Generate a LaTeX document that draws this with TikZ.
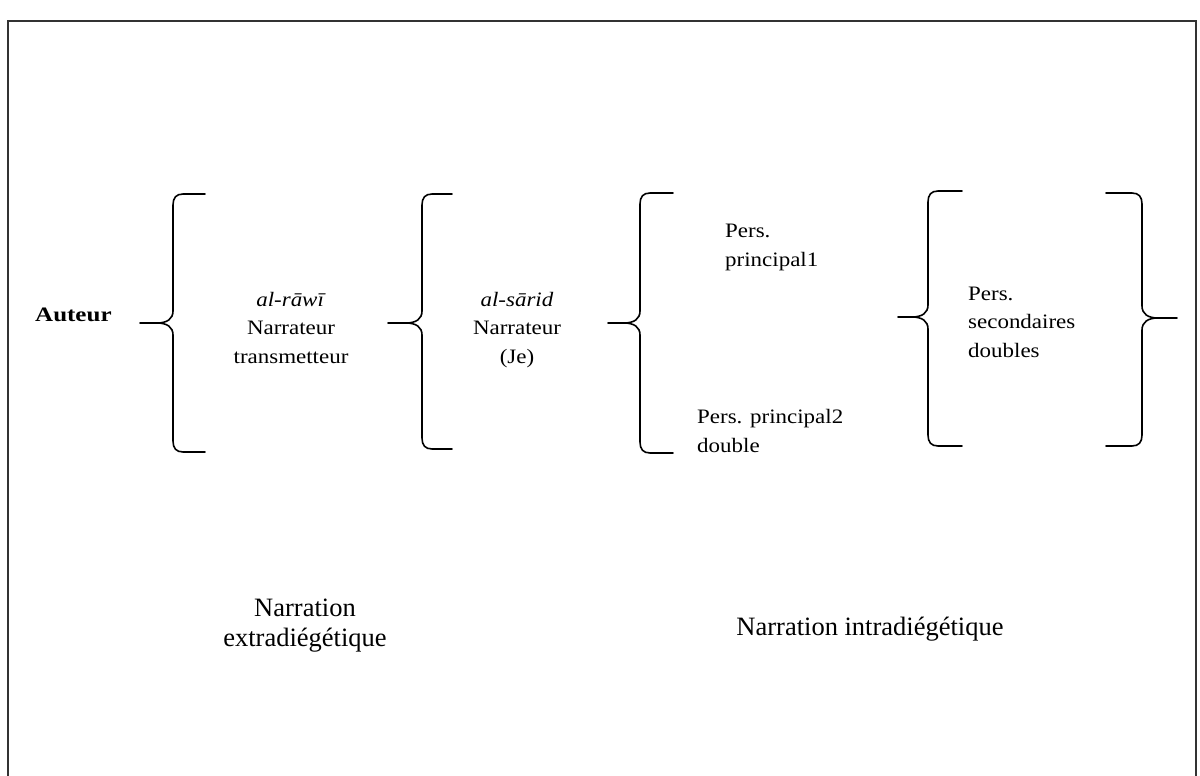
\documentclass[tikz,border=0pt]{standalone}
\usepackage{fontspec}
\setmainfont{Liberation Serif}[FakeStretch=1.12,BoldFeatures={FakeStretch=1.22}]
\newfontfamily\capfont{Liberation Serif}

\tikzset{
  frameline/.style={line width=1.2pt, draw=black!80},
  brk/.style={line width=1.6pt, line cap=round, line join=round},
  txt/.style={inner sep=0pt, font=\fontsize{20.5}{28.5}\selectfont},
  boldtxt/.style={inner sep=0pt, font=\fontsize{20.5}{28.5}\selectfont\bfseries},
  captxt/.style={inner sep=0pt, font=\capfont\fontsize{26.5}{30}\selectfont},
}

% opening brace: spine x, top y, bottom y, tip x, tip y, arm end x
\newcommand\openbrk[6]{%
  \draw[brk] (#6,#2) -- (#1+10,#2) .. controls (#1+3,#2) and (#1,#2+4) .. (#1,#2+11)
    -- (#1,#5-12) .. controls (#1,#5-4) and (#1-6,#5) .. (#1-16,#5) -- (#4,#5);
  \draw[brk] (#1-16,#5) .. controls (#1-6,#5) and (#1,#5+4) .. (#1,#5+12)
    -- (#1,#3-11) .. controls (#1,#3-4) and (#1+3,#3) .. (#1+10,#3) -- (#6,#3);
}
% closing brace: same arguments, mirrored
\newcommand\closebrk[6]{%
  \draw[brk] (#6,#2) -- (#1-10,#2) .. controls (#1-3,#2) and (#1,#2+4) .. (#1,#2+11)
    -- (#1,#5-12) .. controls (#1,#5-4) and (#1+6,#5) .. (#1+16,#5) -- (#4,#5);
  \draw[brk] (#1+16,#5) .. controls (#1+6,#5) and (#1,#5+4) .. (#1,#5+12)
    -- (#1,#3-11) .. controls (#1,#3-4) and (#1-3,#3) .. (#1-10,#3) -- (#6,#3);
}

\begin{document}
\begin{tikzpicture}[x=1pt,y=-1pt]
\useasboundingbox (0,0) rectangle (1200,776);
\fill[white] (0,0) rectangle (1200,776);

% page frame, open at the bottom
\draw[frameline] (8,776) -- (8,21) -- (1196,21) -- (1196,776);

% labels (multi-line nodes sit on the baseline of their last line)
\node[boldtxt, anchor=base west] (auteur) at (35,321) {Auteur};
\node[txt, align=center, anchor=base] (rawi) at (291,363)
  {\textit{al-rāwī}\\Narrateur\\transmetteur};
\node[txt, align=center, anchor=base] (sarid) at (517,363)
  {\textit{al-sārid}\\Narrateur\\(Je)};
\node[txt, align=left, anchor=base west] (pp1) at (725,266) {Pers.\\principal1};
\node[txt, align=left, anchor=base west] (pp2) at (697,452) {Pers. principal2\\double};
\node[txt, align=left, anchor=base west] (psd) at (968,357)
  {Pers.\\secondaires\\doubles};

\node[captxt, align=center, anchor=base] (extra) at (305,646)
  {Narration\\extradiégétique};
\node[captxt, anchor=base] (intra) at (870,635) {Narration intradiégétique};

% braces
\openbrk{173}{194}{452}{140}{323}{205}
\openbrk{422}{194}{449}{388}{323}{452}
\openbrk{640}{193}{453}{608}{323}{673}
\openbrk{928}{191}{446}{898}{317}{962}
\closebrk{1142}{193}{446}{1177}{318}{1106}
\end{tikzpicture}
\end{document}
